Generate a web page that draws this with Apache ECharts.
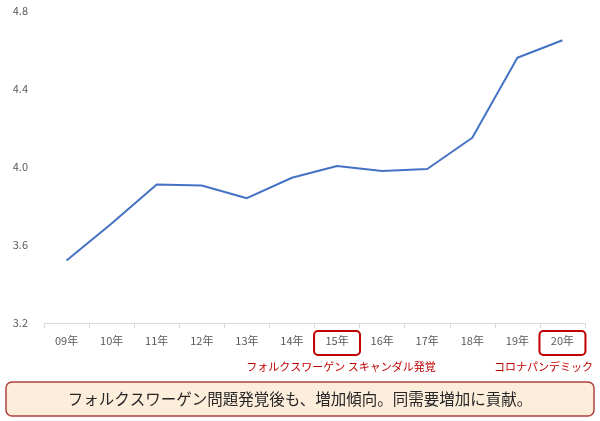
<!DOCTYPE html>
<html>
<head>
<meta charset="utf-8">
<script src="https://cdn.jsdelivr.net/npm/echarts@6/dist/echarts.min.js"></script>
<style>
html,body{margin:0;padding:0;background:#fff;}
#chart{width:600px;height:421px;}
</style>
</head>
<body>
<div id="chart"></div>
<script>
const categories = ['09年','10年','11年','12年','13年','14年','15年','16年','17年','18年','19年','20年'];
const values = [3.52, 3.71, 3.91, 3.905, 3.84, 3.945, 4.005, 3.98, 3.99, 4.15, 4.56, 4.65];
const yTicks = { min: 3.2, max: 4.8, interval: 0.4 };
const highlights = [
  { category: '15年', note: 'フォルクスワーゲン スキャンダル発覚' },
  { category: '20年', note: 'コロナパンデミック' }
];
const summaryText = 'フォルクスワーゲン問題発覚後も、増加傾向。同需要増加に貢献。';

const FONT = '"Noto Sans CJK JP", "Noto Sans", sans-serif';
const chart = echarts.init(document.getElementById('chart'));
chart.setOption({
  animation: false,
  backgroundColor: '#ffffff',
  grid: { left: 44, right: 15, top: 11, bottom: 98 },
  xAxis: {
    type: 'category',
    data: categories,
    boundaryGap: true,
    axisLine: { lineStyle: { color: '#d9d9d9', width: 1 } },
    axisTick: { show: true, length: 5, lineStyle: { color: '#d9d9d9' } },
    axisLabel: { color: '#595959', fontSize: 11, margin: 12, fontFamily: FONT }
  },
  yAxis: {
    type: 'value',
    min: yTicks.min, max: yTicks.max, interval: yTicks.interval,
    axisLine: { show: false },
    axisTick: { show: false },
    splitLine: { show: false },
    axisLabel: { color: '#595959', fontSize: 11, margin: 16, fontFamily: FONT,
      formatter: v => v.toFixed(1) }
  },
  series: [{
    type: 'line',
    data: values,
    symbol: 'none',
    lineStyle: { color: '#4472C4', width: 2 }
  }]
});

const graphics = [];
highlights.forEach(h => {
  const p = chart.convertToPixel({ xAxisIndex: 0 }, h.category);
  graphics.push({
    type: 'rect',
    shape: { x: p - 23, y: 331, width: 46, height: 24, r: 4 },
    style: { fill: 'none', stroke: '#C00000', lineWidth: 2 },
    z: 10
  });
  const font = '11px ' + FONT;
  const w = echarts.format.getTextRect ? echarts.format.getTextRect(h.note, font).width : h.note.length * 11;
  let cx = p + 4;
  if (cx + w / 2 > 593) cx = 593 - w / 2;
  graphics.push({
    type: 'text',
    x: cx, y: 367,
    style: { text: h.note, fill: '#C00000', font: font, textAlign: 'center', textVerticalAlign: 'middle' },
    z: 10
  });
});
graphics.push({
  type: 'rect',
  shape: { x: 6, y: 382, width: 588, height: 34, r: 6 },
  style: { fill: '#FDEDDB', stroke: '#B0413E', lineWidth: 1.5 },
  z: 10
});
graphics.push({
  type: 'text',
  x: 300, y: 399,
  style: { text: summaryText, fill: '#262626', font: '15.5px ' + FONT, textAlign: 'center', textVerticalAlign: 'middle' },
  z: 11
});
chart.setOption({ graphic: graphics });
</script>
</body>
</html>
